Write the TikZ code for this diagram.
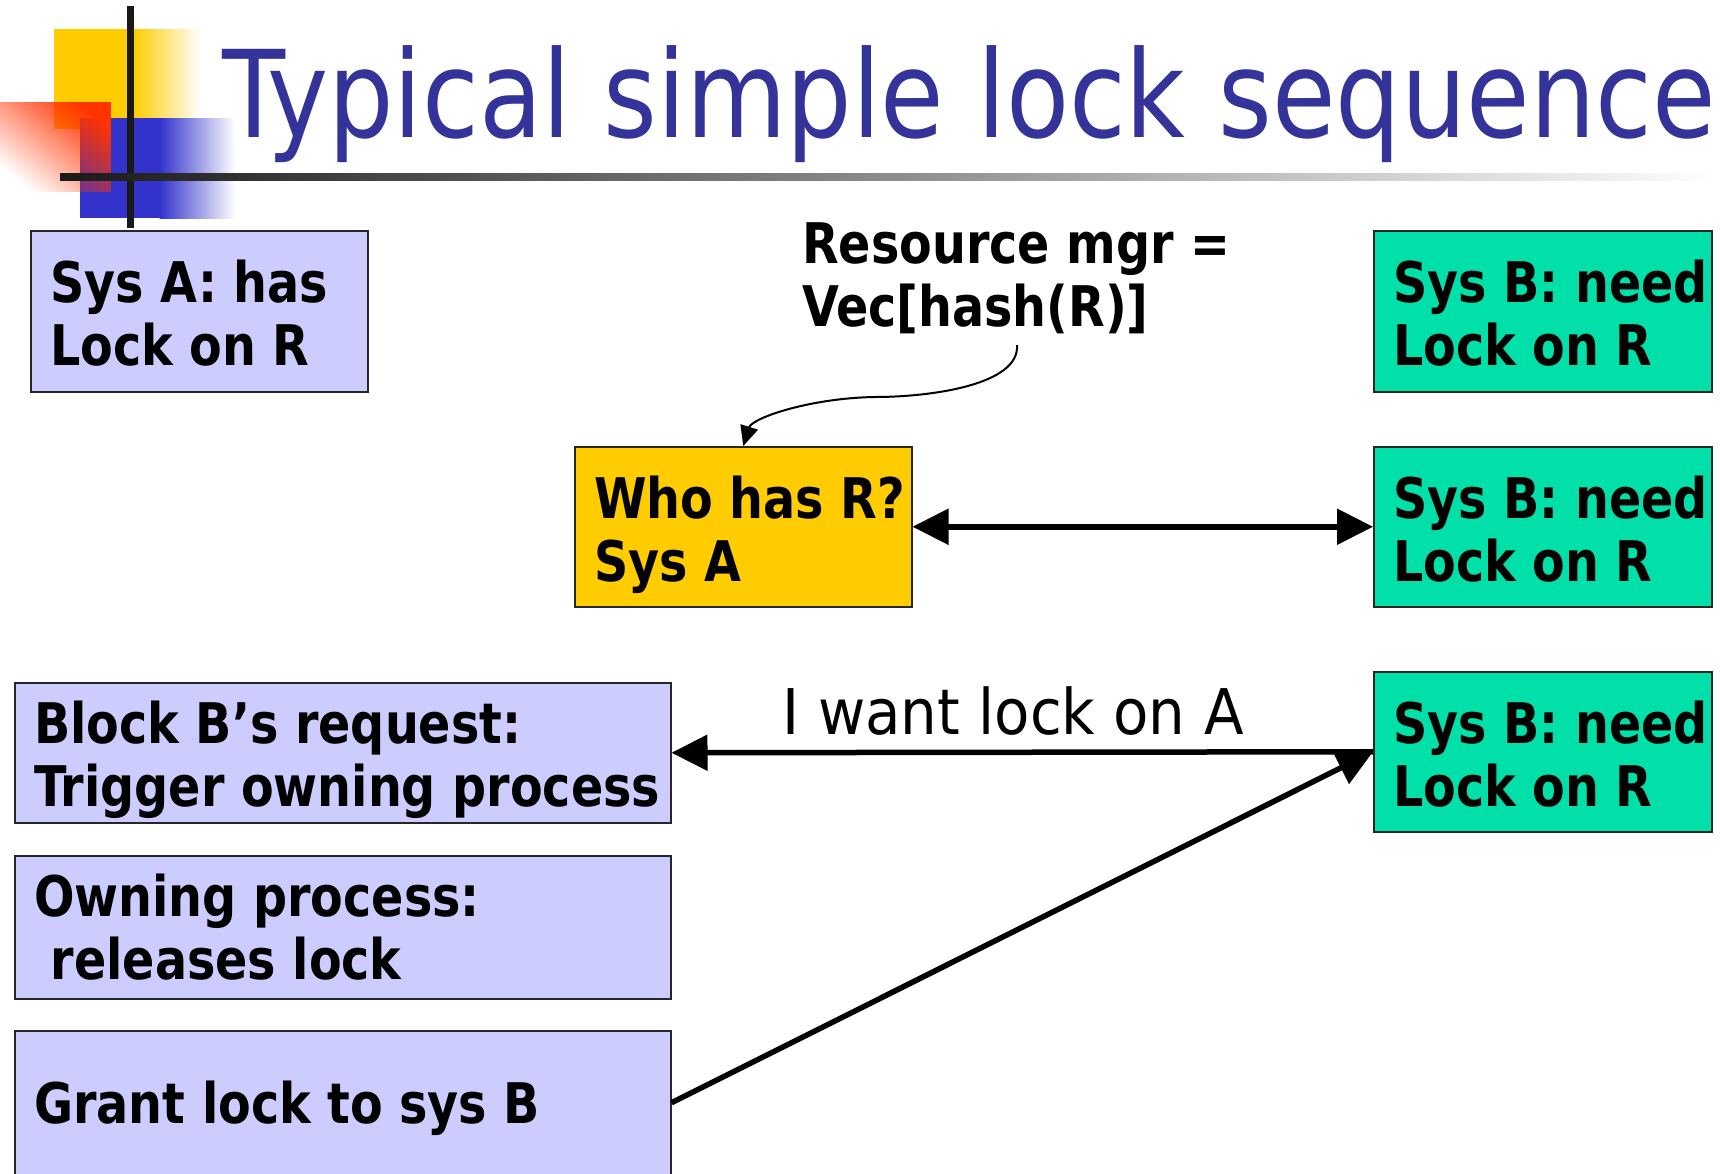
\documentclass[tikz,border=0pt]{standalone}
\usepackage{fontspec}
\setmainfont{DejaVu Sans Condensed}[BoldFeatures={FakeStretch=0.945}]
\newfontfamily\titlefont{DejaVu Sans Condensed}[FakeStretch=0.948]
\newfontfamily\notefont{DejaVu Sans Condensed}[FakeStretch=1.02]
\usetikzlibrary{arrows.meta,fadings}

\definecolor{titleblue}{RGB}{51,51,153}
\definecolor{lilac}{RGB}{204,204,255}
\definecolor{mint}{RGB}{0,224,168}
\definecolor{gold}{RGB}{255,204,0}
\definecolor{sqblue}{RGB}{51,51,204}
\definecolor{sqred}{RGB}{255,51,0}

\tikzfading[name=redfade, top color=transparent!0, bottom color=transparent!100]

\newcommand{\twolines}[2]{\begin{tabular}[t]{@{}l@{}}#1\\#2\end{tabular}}

\tikzset{
  panel/.style={draw=black!85, line width=1.5pt, anchor=north west, inner sep=0pt},
  sysa/.style={panel, fill=lilac},
  sysb/.style={panel, fill=mint},
  mgr/.style={panel, fill=gold},
  boxtext/.style={anchor=base west, inner sep=0pt,
    font=\fontsize{56}{63.5}\selectfont\bfseries},
  bigarrow/.style={line width=5.5pt, -{Triangle[length=36pt,width=35pt]}},
  bigdouble/.style={line width=5.5pt, {Triangle[length=36pt,width=35pt]}-{Triangle[length=36pt,width=35pt]}},
  thinarrow/.style={line width=2pt, -{Triangle[length=20pt,width=18pt]}}
}

\begin{document}
\begin{tikzpicture}[x=1pt, y=-1pt]
\useasboundingbox (0,0) rectangle (1720,1173);

% corner ornament
\fill[gold] (54,29) rectangle (134,129);
\shade[left color=gold, right color=white] (133.5,29) rectangle (200,129);
\fill[sqblue] (80,118) rectangle (160,218);
\shade[left color=sqblue, right color=white] (159.5,118) rectangle (235,218);
\fill[sqred, path fading=redfade, fading angle=-45] (0,102) rectangle (111,192);
\fill[black!90] (127,6) rectangle (134,228);
\shade[left color=black!90, right color=white] (60,173) rectangle (1720,180);

% title
\node[anchor=base west, inner sep=0pt, text=titleblue,
      font=\fontsize{121}{121}\titlefont] (title) at (222,137) {Typical simple lock sequence};

% boxes
\node[sysa, minimum width=337pt, minimum height=161pt] (sysA) at (30,230) {};
\node[sysb, minimum width=338pt, minimum height=161pt] (sysB1) at (1373,230) {};
\node[mgr,  minimum width=337pt, minimum height=160pt] (who) at (574,446) {};
\node[sysb, minimum width=338pt, minimum height=160pt] (sysB2) at (1373,446) {};
\node[sysb, minimum width=338pt, minimum height=160pt] (sysB3) at (1373,671) {};
\node[sysa, minimum width=656pt, minimum height=140pt] (block) at (14,682) {};
\node[sysa, minimum width=656pt, minimum height=143pt] (owning) at (14,855) {};
\node[sysa, minimum width=656pt, minimum height=144pt] (grant) at (14,1030) {};

% box texts
\node[boxtext] (tA)  at (50,302)   {\twolines{Sys A: has}{Lock on R}};
\node[boxtext] (tB1) at (1393,302) {\twolines{Sys B: need}{Lock on R}};
\node[boxtext] (tW)  at (594,518)  {\twolines{Who has R?}{Sys A}};
\node[boxtext] (tB2) at (1393,518) {\twolines{Sys B: need}{Lock on R}};
\node[boxtext] (tB3) at (1393,743) {\twolines{Sys B: need}{Lock on R}};
\node[boxtext] (tBl) at (34,743)   {\twolines{Block B’s request:}{Trigger owning process}};
\node[boxtext] (tO)  at (34,916)   {\twolines{Owning process:}{\ releases lock}};
\node[boxtext] (tG)  at (34,1123)  {Grant lock to sys B};
\node[boxtext] (res) at (802,263)  {\twolines{Resource mgr =}{Vec[hash(R)]}};

% connectors
\coordinate (hashfoot) at (1017,345);
\draw[thinarrow] (hashfoot) .. controls (1020,385) and (930,397) .. (875,397)
  .. controls (810,398) and (752,418) .. (who.north);
\draw[bigdouble] (who.east) -- (sysB2.west);
\draw[bigarrow] (sysB3.west) -- node[above=14pt, xshift=-9pt, inner sep=0pt,
   font=\fontsize{63}{63}\notefont] (want) {I want lock on A} (block.east);
\draw[bigarrow] (grant.east) -- (sysB3.west);
\end{tikzpicture}
\end{document}
